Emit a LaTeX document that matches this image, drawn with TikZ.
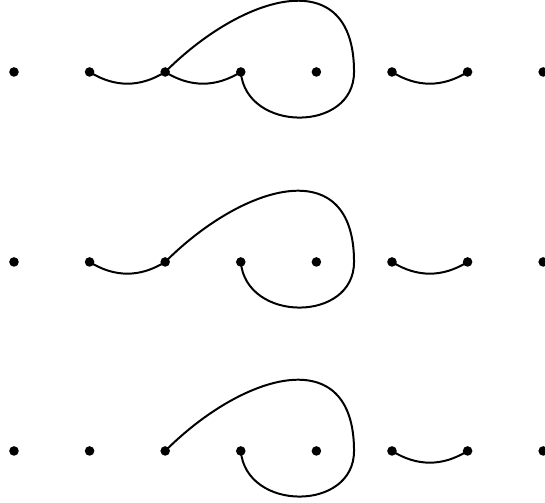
\documentclass[tikz,border=0pt]{standalone}
\usepackage{tikz}

\tikzset{
  dot/.style={circle,fill=black,inner sep=0pt,minimum size=3.6pt},
  strand/.style={line width=0.75pt}
}

\begin{document}
\begin{tikzpicture}[x=1cm,y=1cm]
\useasboundingbox (0,0) rectangle (7.209,6.653);
% three rows of eight points
\foreach \r/\y in {1/5.701,2/3.188,3/0.688}{
  \foreach \i in {1,...,8}
    \node[dot] (p-\r-\i) at ({0.185+\i-1},\y) {};
  \coordinate (q-\r) at (4.683,\y);
}
% row 1
\draw[strand] (p-1-2.center) to[bend right=32] (p-1-3.center);
\draw[strand] (p-1-3.center) to[bend right=32] (p-1-4.center);
\draw[strand] (p-1-3.center) to[out=45,in=90,looseness=1.5] (q-1)
  to[out=-90,in=-85,looseness=1.38] (p-1-4.center);
\draw[strand] (p-1-6.center) to[bend right=32] (p-1-7.center);
% row 2
\draw[strand] (p-2-2.center) to[bend right=32] (p-2-3.center);
\draw[strand] (p-2-3.center) to[out=45,in=90,looseness=1.5] (q-2)
  to[out=-90,in=-85,looseness=1.38] (p-2-4.center);
\draw[strand] (p-2-6.center) to[bend right=32] (p-2-7.center);
% row 3
\draw[strand] (p-3-3.center) to[out=45,in=90,looseness=1.5] (q-3)
  to[out=-90,in=-85,looseness=1.38] (p-3-4.center);
\draw[strand] (p-3-6.center) to[bend right=32] (p-3-7.center);
\end{tikzpicture}
\end{document}
